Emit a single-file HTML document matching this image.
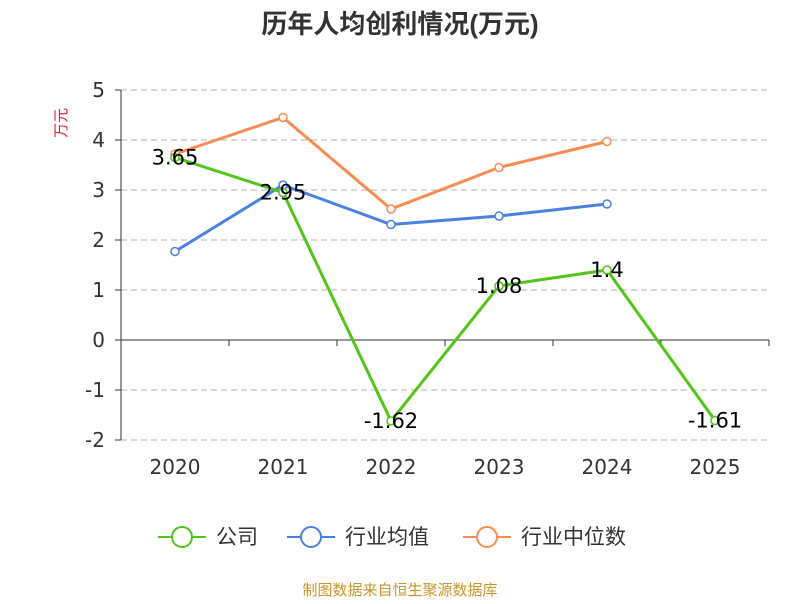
<!DOCTYPE html>
<html><head><meta charset="utf-8"><style>
body{margin:0;background:#fff;font-family:"DejaVu Sans","Liberation Sans","Noto Sans CJK SC",sans-serif}
</style></head><body>
<svg id="c" width="800" height="600" xmlns="http://www.w3.org/2000/svg" font-family="DejaVu Sans, Liberation Sans, Noto Sans CJK SC, sans-serif"></svg>
<script>
const categories=["2020","2021","2022","2023","2024","2025"];
const companyVals=[3.65,2.95,-1.62,1.08,1.4,-1.61];
const avgVals=[1.77,3.1,2.31,2.48,2.72];
const medianVals=[3.72,4.45,2.62,3.45,3.97];
const yTicks=[5,4,3,2,1,0,-1,-2];
const NS="http://www.w3.org/2000/svg";
const svg=document.getElementById('c');
const L=121,R=769,band=(R-L)/categories.length;
const x=i=>L+band*(i+0.5);
const y=v=>340-v*50;
function el(t,a,txt){const e=document.createElementNS(NS,t);for(const k in a)e.setAttribute(k,a[k]);if(txt!==undefined)e.textContent=txt;svg.appendChild(e);return e;}
let t=el('text',{x:400,y:33,'text-anchor':'middle','font-size':26,'font-weight':'bold',fill:'#333','font-family':'Liberation Sans, Noto Sans CJK SC, sans-serif'},'历年人均创利情况(万元)');


t=el('text',{x:0,y:0,transform:'translate(66,123) rotate(-90)','text-anchor':'middle','font-size':15,fill:'#e0262e','font-family':'Noto Sans CJK SC, sans-serif'},'万元');


yTicks.forEach(v=>{
  if(v!==0){const g=el('line',{x1:L,x2:R,y1:y(v),y2:y(v),stroke:'#ccc','stroke-dasharray':'6,4','stroke-width':1.5});
  
  }
  el('line',{x1:L-6,x2:L,y1:y(v),y2:y(v),stroke:'#333'});
  const lb=el('text',{x:L-16,y:y(v)+7,'text-anchor':'end','font-size':20,fill:'#333'},String(v));
  
  
});
el('line',{x1:L,x2:L,y1:y(5),y2:y(-2),stroke:'#333'});
el('line',{x1:L,x2:R,y1:y(0),y2:y(0),stroke:'#333'});
for(let i=0;i<=categories.length;i++)el('line',{x1:L+band*i,x2:L+band*i,y1:340,y2:346,stroke:'#333'});
categories.forEach((c,i)=>{const lb=el('text',{x:x(i),y:474,'text-anchor':'middle','font-size':20,fill:'#333'},c);

});
function series(vals,color,name){
  const p=el('polyline',{points:vals.map((v,i)=>x(i)+','+y(v)).join(' '),fill:'none',stroke:color,'stroke-width':3});
  
  
  vals.forEach((v,i)=>{const m=el('circle',{cx:x(i),cy:y(v),r:4,fill:'#fff',stroke:color,'stroke-width':1.5});
  
  });
}
series(medianVals,'#f98c52','median');
series(avgVals,'#4a80e0','average');
series(companyVals,'#52c41a','company');
companyVals.forEach((v,i)=>{const lb=el('text',{x:x(i),y:y(v)+7,'text-anchor':'middle','font-size':21,fill:'#000'},String(v));

});
const legend=[["公司",'#52c41a',158],["行业均值",'#4a80e0',287],["行业中位数",'#f98c52',463]];
legend.forEach(([n,c,lx])=>{
  el('line',{x1:lx,x2:lx+48,y1:537,y2:537,stroke:c,'stroke-width':2});
  el('circle',{cx:lx+24,cy:537,r:10,fill:'#fff',stroke:c,'stroke-width':2});
  const lb=el('text',{x:lx+58,y:544,'font-size':21,fill:'#333','font-family':'Noto Sans CJK SC, sans-serif'},n);
  
  
});
t=el('text',{x:400,y:595,'text-anchor':'middle','font-size':15,fill:'#c9952c','font-family':'Noto Sans CJK SC, sans-serif'},'制图数据来自恒生聚源数据库');


</script>
</body></html>
